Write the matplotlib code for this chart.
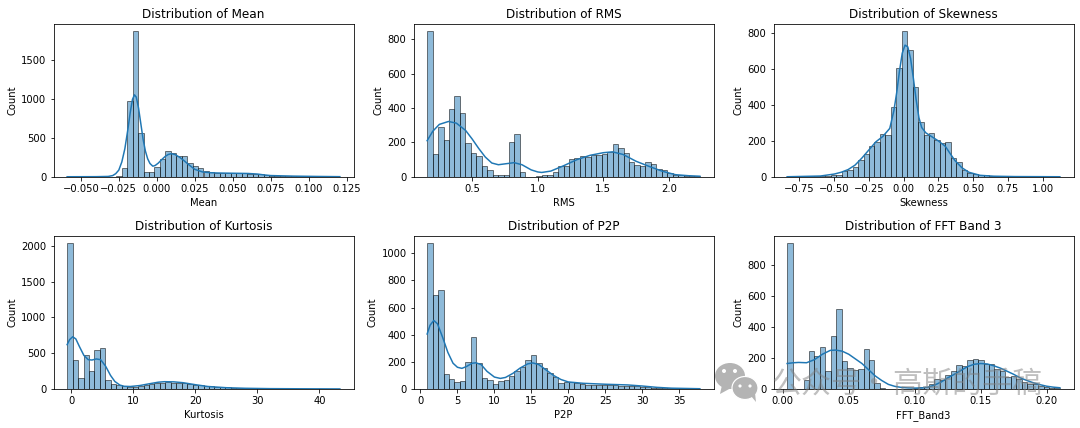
import numpy as np
import matplotlib
matplotlib.use("Agg")
import matplotlib.pyplot as plt
from matplotlib.patches import Ellipse, Polygon

features = ["Mean", "RMS", "Skewness", "Kurtosis", "P2P", "FFT_Band3"]
titles = ["Distribution of Mean", "Distribution of RMS", "Distribution of Skewness",
          "Distribution of Kurtosis", "Distribution of P2P", "Distribution of FFT Band 3"]

# Value range covered by the 50 histogram bins of each feature
mean_range = (-0.059, 0.1205)
rms_range = (0.157, 2.236)
skew_range = (-0.839, 1.125)
kurt_range = (-0.7, 43.3)
p2p_range = (0.9, 37.8)
fft_range = (0.0033, 0.2100)

# Bin counts
mean_counts = [0, 0, 0, 0, 0, 0, 0, 0, 2, 10, 115, 970, 1870, 560, 60, 55, 125, 230, 330, 300,
               270, 265, 180, 135, 110, 80, 60, 52, 50, 48, 47, 45, 42, 40, 38, 32, 28, 15, 12, 10,
               8, 7, 6, 5, 4, 4, 3, 3, 2, 2]
rms_counts = [850, 130, 290, 215, 395, 470, 370, 195, 140, 122, 60, 40, 12, 10, 10, 205, 250, 25, 0, 0,
              5, 8, 12, 25, 65, 65, 105, 110, 120, 115, 125, 125, 130, 145, 190, 170, 140, 88, 70, 60,
              85, 75, 48, 42, 20, 12, 8, 6, 3, 2]
skew_counts = [0, 0, 0, 1, 2, 2, 3, 5, 8, 12, 32, 35, 55, 95, 125, 170, 195, 240, 232, 390,
               610, 815, 705, 500, 305, 232, 245, 205, 190, 195, 105, 80, 40, 22, 15, 10, 8, 6, 4, 3,
               2, 2, 1, 1, 1, 1, 0, 0, 1, 1]
kurt_counts = [2040, 400, 155, 470, 255, 550, 570, 125, 70, 50, 35, 30, 30, 40, 55, 65, 80, 90, 95, 90,
               88, 85, 70, 60, 50, 45, 35, 30, 28, 25, 20, 15, 12, 10, 8, 7, 6, 5, 4, 4,
               3, 3, 3, 2, 2, 2, 2, 1, 1, 1]
p2p_counts = [1075, 695, 730, 110, 72, 52, 58, 200, 385, 195, 82, 68, 40, 60, 65, 95, 135, 160, 215, 250,
              190, 155, 115, 90, 45, 48, 48, 42, 40, 32, 30, 30, 28, 28, 28, 25, 24, 22, 20, 18,
              12, 8, 7, 5, 4, 3, 3, 2, 2, 2]
fft_counts = [945, 0, 0, 60, 245, 212, 270, 118, 340, 520, 180, 138, 125, 130, 258, 185, 40, 8, 3, 2,
              2, 2, 3, 5, 10, 15, 30, 62, 60, 90, 115, 155, 150, 185, 195, 190, 160, 165, 130, 115,
              75, 85, 65, 45, 35, 30, 22, 12, 8, 8]

# Density curves, scaled to counts
mean_kde_x = [-0.059, -0.04, -0.032, -0.029, -0.027, -0.025, -0.023, -0.021, -0.019, -0.0175, -0.016, -0.0147,
              -0.0135, -0.012, -0.0105, -0.009, -0.0075, -0.006, -0.0045, -0.0026, -0.001, 0.001, 0.003, 0.0055,
              0.0075, 0.0095, 0.012, 0.015, 0.018, 0.021, 0.025, 0.03, 0.035, 0.04, 0.05, 0.06, 0.066, 0.07,
              0.075, 0.09, 0.105, 0.1205]
mean_kde_y = [0, 1, 4, 15, 40, 85, 190, 360, 610, 820, 990, 1050, 1020, 880, 680, 480, 330, 230, 170, 135,
              145, 175, 215, 260, 285, 295, 285, 250, 205, 155, 95, 62, 52, 48, 45, 42, 35, 25, 15, 8, 4, 1]
rms_kde_x = [0.157, 0.2, 0.25, 0.32, 0.38, 0.45, 0.5, 0.55, 0.6, 0.65, 0.7, 0.75, 0.82, 0.88, 0.95, 1.0, 1.03,
             1.1, 1.2, 1.3, 1.4, 1.5, 1.57, 1.65, 1.75, 1.85, 1.95, 2.05, 2.15, 2.236]
rms_kde_y = [210, 265, 305, 322, 312, 270, 220, 165, 115, 80, 70, 75, 82, 70, 40, 28, 25,
             33, 65, 100, 125, 140, 145, 130, 90, 60, 32, 12, 6, 3]
skew_kde_x = [-0.839, -0.6, -0.5, -0.45, -0.4, -0.35, -0.3, -0.25, -0.2, -0.15, -0.1, -0.07, -0.05, -0.03, -0.01,
              0.01, 0.03, 0.05, 0.07, 0.09, 0.11, 0.13, 0.16, 0.2, 0.25, 0.3, 0.33, 0.37, 0.42, 0.47, 0.55, 0.65,
              0.8, 1.125]
skew_kde_y = [0, 4, 15, 25, 40, 65, 105, 150, 195, 225, 270, 370, 470, 590, 690,
              735, 725, 660, 550, 430, 330, 275, 245, 225, 200, 170, 135, 90, 50, 25, 8, 3, 1, 0]
kurt_kde_x = [-0.7, -0.3, 0.2, 0.7, 1.3, 2, 2.7, 3.3, 4, 4.7, 5.5, 6.3, 7, 7.8, 8.5, 9.5, 11, 12.5, 14, 15, 16.5,
              18, 20, 22, 25, 28, 32, 37, 43.3]
kurt_kde_y = [620, 690, 730, 700, 590, 470, 410, 405, 420, 410, 320, 190, 105, 55, 38, 35, 48, 72, 95, 102, 100,
              88, 60, 35, 18, 10, 5, 3, 1]
p2p_kde_x = [0.9, 1.3, 1.8, 2.3, 3, 3.7, 4.4, 5, 5.6, 6.2, 7, 7.5, 8.2, 9, 10, 10.8, 11.5, 12.5, 13.5, 14.5, 15.2,
             16, 17, 18, 19, 20, 22, 25, 28, 30, 32, 34, 37.8]
p2p_kde_y = [405, 470, 505, 480, 380, 270, 190, 160, 152, 165, 190, 193, 180, 130, 88, 78, 85, 115, 155, 185, 192,
             180, 140, 100, 70, 52, 42, 35, 30, 22, 12, 6, 2]
fft_kde_x = [0.0033, 0.008, 0.012, 0.018, 0.024, 0.03, 0.036, 0.04, 0.045, 0.05, 0.055, 0.06, 0.065, 0.07, 0.075,
             0.08, 0.085, 0.09, 0.095, 0.1, 0.105, 0.11, 0.115, 0.12, 0.125, 0.13, 0.135, 0.14, 0.145, 0.15, 0.155,
             0.16, 0.165, 0.17, 0.175, 0.18, 0.185, 0.19, 0.195, 0.2, 0.205, 0.21]
fft_kde_y = [165, 170, 172, 170, 190, 225, 250, 252, 245, 225, 195, 165, 125, 85, 55,
             30, 17, 10, 7, 6, 7, 12, 25, 45, 72, 95, 120, 145, 160, 165, 162,
             150, 135, 115, 95, 72, 55, 40, 28, 18, 12, 8]

ranges = [mean_range, rms_range, skew_range, kurt_range, p2p_range, fft_range]
counts = [mean_counts, rms_counts, skew_counts, kurt_counts, p2p_counts, fft_counts]
kde_xs = [mean_kde_x, rms_kde_x, skew_kde_x, kurt_kde_x, p2p_kde_x, fft_kde_x]
kde_ys = [mean_kde_y, rms_kde_y, skew_kde_y, kurt_kde_y, p2p_kde_y, fft_kde_y]

fig, axes = plt.subplots(2, 3, figsize=(15, 428 / 72), dpi=72)
fig.subplots_adjust(left=53.5 / 1080, right=1073.5 / 1080, top=1 - 23.5 / 428, bottom=1 - 389 / 428,
                    wspace=0.2, hspace=0.385)

for i, ax in enumerate(axes.flat):
    edges = np.linspace(ranges[i][0], ranges[i][1], len(counts[i]) + 1)
    ax.bar(edges[:-1], counts[i], width=np.diff(edges), align="edge",
           facecolor="#1f77b4", edgecolor="black", linewidth=1.0, alpha=0.5)
    ax.plot(kde_xs[i], kde_ys[i], color="#1f77b4", linewidth=1.5)
    ax.set_title(titles[i])
    ax.set_xlabel(features[i])
    ax.set_ylabel("Count")

# Account watermark across the lower right corner
overlay = fig.add_axes([0, 0, 1, 1], zorder=10)
overlay.set_xlim(0, 1080)
overlay.set_ylim(428, 0)
overlay.axis("off")
mark_grey = "#b4b4b4"
overlay.add_patch(Ellipse((730, 376), 30, 26, facecolor=mark_grey, edgecolor="none"))
overlay.add_patch(Polygon([(722, 385), (720, 394), (731, 388)], facecolor=mark_grey, edgecolor="none"))
overlay.add_patch(Ellipse((745, 388), 26, 23, facecolor=mark_grey, edgecolor="white", linewidth=1.2))
overlay.add_patch(Polygon([(751, 396), (756, 402), (755, 393)], facecolor=mark_grey, edgecolor="none"))
for ex, ey, er in [(724, 371, 2.0), (735, 371, 2.0), (740, 386, 1.6), (750, 386, 1.6)]:
    overlay.add_patch(Ellipse((ex, ey), 2 * er, 2 * er, facecolor="white", edgecolor="none"))
overlay.text(771, 384, "公众号", family=["Noto Sans CJK SC", "DejaVu Sans"], fontsize=30,
             color="#808080", alpha=0.5, ha="left", va="center")
overlay.text(873, 384, "·", family=["Noto Sans CJK SC", "DejaVu Sans"], fontsize=30,
             color="#808080", alpha=0.5, ha="center", va="center")
overlay.text(892, 384, "高斯的手稿", family=["Noto Sans CJK SC", "DejaVu Sans"], fontsize=30,
             color="#808080", alpha=0.5, ha="left", va="center")

fig.savefig("out.png", dpi=72)
